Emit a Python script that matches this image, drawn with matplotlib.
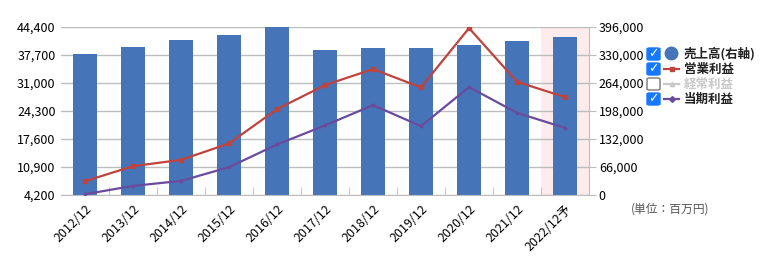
import matplotlib

matplotlib.use("Agg")
import matplotlib.pyplot as plt
from matplotlib.lines import Line2D
from matplotlib.patches import FancyBboxPatch

plt.rcParams["font.family"] = ["Noto Sans CJK JP", "DejaVu Sans"]

# データ (単位：百万円)
years = ["2012/12", "2013/12", "2014/12", "2015/12", "2016/12", "2017/12",
         "2018/12", "2019/12", "2020/12", "2021/12", "2022/12予"]
sales = [331500, 348000, 364600, 376400, 395500, 341000,
         345700, 345700, 353500, 362900, 372400]
op_profit = [7390, 10990, 12500, 16430, 24660, 30420,
             34250, 29870, 44090, 31210, 27540]
net_profit = [4270, 6260, 7460, 10750, 16190, 20750,
              25620, 20580, 29940, 23770, 20170]
left_ticks = [4200, 10900, 17600, 24300, 31000, 37700, 44400]
right_ticks = [0, 66000, 132000, 198000, 264000, 330000, 396000]

BAR = "#4674b8"
RED = "#c0433c"
PURPLE = "#6a4b9e"
GRID = "#bdbdbd"
CHECK = "#1677ff"

fig = plt.figure(figsize=(7.63, 2.65), dpi=100)
ax2 = fig.add_axes([0.080, 0.266, 0.692, 0.633])
ax = ax2.twinx()
ax.set_zorder(ax2.get_zorder() + 1)
ax.patch.set_visible(False)

x = list(range(len(years)))

# 予想期の背景
ax2.axvspan(9.5, 10.5, color="#fdeceb", zorder=0, lw=0)
ax2.bar(x, sales, width=0.5, color=BAR, zorder=2)
ax2.set_ylim(0, 396000)
ax2.set_xlim(-0.5, 10.5)
ax2.set_yticks(right_ticks)
ax2.set_yticklabels([f"{v:,}" for v in right_ticks])
ax2.yaxis.tick_right()
ax2.grid(axis="y", color=GRID, lw=1, zorder=1)
ax2.set_axisbelow(True)
ax2.tick_params(axis="y", length=5, color=GRID, labelsize=9, pad=2)
ax2.set_xticks(x)
ax2.set_xticklabels(years, rotation=45, ha="right", va="top",
                    rotation_mode="anchor", fontsize=9)
ax2.set_xticks([i + 0.5 for i in x[:-1]], minor=True)
ax2.tick_params(axis="x", which="major", length=0, pad=6)
ax2.tick_params(axis="x", which="minor", direction="in", length=6, color=GRID)
for side in ("top", "left"):
    ax2.spines[side].set_visible(False)
ax2.spines["bottom"].set_color(GRID)
ax2.spines["right"].set_color(GRID)

ax.plot(x, op_profit, color=RED, lw=1.6, marker="s", ms=3.5, zorder=4)
ax.plot(x, net_profit, color=PURPLE, lw=1.6, marker="D", ms=1.6, zorder=4)
ax.set_ylim(4200, 44400)
ax.set_yticks(left_ticks)
ax.set_yticklabels([f"{v:,}" for v in left_ticks])
ax.yaxis.tick_left()
ax.tick_params(axis="y", length=0, labelsize=9, pad=4)
for s in ax.spines.values():
    s.set_visible(False)

# 凡例 (チェックボックス付き)
W, H = 763, 265
rows = [
    ("売上高(右軸)", "circle", BAR, True, "#222222"),
    ("営業利益", "s", RED, True, "#222222"),
    ("経常利益", "^", "#c8c8c8", False, "#c8c8c8"),
    ("当期利益", "D", PURPLE, True, "#222222"),
]
for i, (label, mk, col, checked, tcol) in enumerate(rows):
    cy = 54 + i * 15
    bx, bw, bh = 647, 13, 12
    box = FancyBboxPatch((bx / W, 1 - (cy + bh / 2) / H), bw / W, bh / H,
                         boxstyle="round,pad=0,rounding_size=0.004",
                         transform=fig.transFigure,
                         facecolor=CHECK if checked else "white",
                         edgecolor=CHECK if checked else "#777777", lw=1)
    fig.add_artist(box)
    if checked:
        fig.text((bx + bw / 2) / W, 1 - cy / H, "✓", color="white",
                 fontsize=9, fontweight="bold", ha="center", va="center",
                 family="DejaVu Sans")
    if mk == "circle":
        fig.add_artist(Line2D([671 / W], [1 - (cy - 1) / H], marker="o",
                              ms=9, color=col, ls="none",
                              transform=fig.transFigure))
    else:
        fig.add_artist(Line2D([664 / W, 679 / W], [1 - cy / H] * 2,
                              color=col, lw=1.6, transform=fig.transFigure))
        fig.add_artist(Line2D([671.5 / W], [1 - cy / H], color=col,
                              marker=mk, ms=3, ls="none",
                              transform=fig.transFigure))
    fig.text(684 / W, 1 - cy / H, label, color=tcol, fontsize=9,
             fontweight="bold", ha="left", va="center")

fig.text(631 / W, 1 - 209 / H, "(単位：百万円)", color="#555555",
         fontsize=8.5, ha="left", va="center")

fig.savefig("out.png", dpi=100)
